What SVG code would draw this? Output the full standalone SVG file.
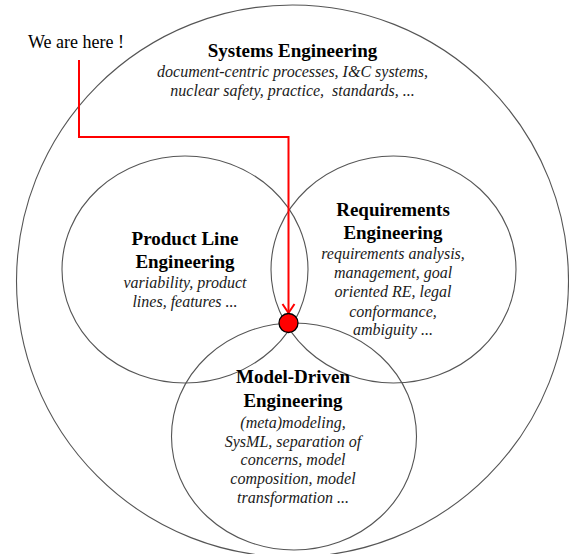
<svg xmlns="http://www.w3.org/2000/svg" width="569" height="554" viewBox="0 0 569 554">
<style>
.c{fill:none;stroke:#555;stroke-width:1.1}
text{font-family:'Liberation Serif','Times New Roman',serif}
.t{fill:#000;text-anchor:middle}
.b{font-size:19px;font-weight:bold}
.i{font-size:16px;font-style:italic;fill:#1a1a1a;white-space:pre}
.w{font-size:18px;text-anchor:start}
.r{fill:none;stroke:#ff0000;stroke-width:2}
</style>
<rect width="569" height="554" fill="#fff"/>
<g id="systems-engineering">
<circle class="c" cx="292.5" cy="281" r="276"/>
<text class="t b" x="292.5" y="57">Systems Engineering</text>
<text class="t i" x="292.5" y="77">document-centric processes, I&amp;C systems,</text>
<text class="t i" x="292.5" y="96" xml:space="preserve">nuclear safety, practice,  standards, ...</text>
</g>
<g id="product-line-engineering">
<ellipse class="c" cx="185" cy="269.5" rx="123" ry="113.5"/>
<text class="t b" x="185" y="245">Product Line</text>
<text class="t b" x="185" y="268">Engineering</text>
<text class="t i" x="185" y="288">variability, product</text>
<text class="t i" x="185" y="307">lines, features ...</text>
</g>
<g id="requirements-engineering">
<ellipse class="c" cx="393.5" cy="269.5" rx="122.5" ry="113.5"/>
<text class="t b" x="393" y="216">Requirements</text>
<text class="t b" x="393" y="239">Engineering</text>
<text class="t i" x="393" y="259">requirements analysis,</text>
<text class="t i" x="393" y="278">management, goal</text>
<text class="t i" x="393" y="297">oriented RE, legal</text>
<text class="t i" x="393" y="317">conformance,</text>
<text class="t i" x="393" y="335">ambiguity ...</text>
</g>
<g id="model-driven-engineering">
<ellipse class="c" cx="294" cy="436.5" rx="122.5" ry="113.5"/>
<text class="t b" x="293" y="383">Model-Driven</text>
<text class="t b" x="293" y="407">Engineering</text>
<text class="t i" x="293" y="428">(meta)modeling,</text>
<text class="t i" x="293" y="447">SysML, separation of</text>
<text class="t i" x="293" y="465">concerns, model</text>
<text class="t i" x="293" y="484">composition, model</text>
<text class="t i" x="293" y="503">transformation ...</text>
</g>
<g id="we-are-here">
<text class="t w" x="28" y="48">We are here !</text>
</g>
<g id="connectors">
<polyline class="r" points="79,60 79,137 288.5,137 288.5,313"/>
<polyline class="r" points="282.5,304 288.5,313 294.5,304"/>
</g>
<g id="here-dot">
<circle cx="288.5" cy="323" r="9.5" fill="#ff0000" stroke="#000" stroke-width="1.3"/>
</g>
</svg>
